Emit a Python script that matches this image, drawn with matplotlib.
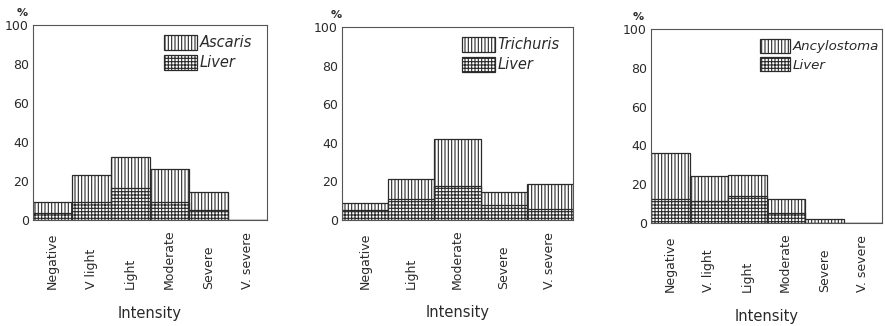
import matplotlib
matplotlib.use("Agg")
import matplotlib.pyplot as plt
from matplotlib.patches import Patch

# --- intensity categories and % of cases per panel ---
ascaris_cats = ["Negative", "V light", "Light", "Moderate", "Severe", "V. severe"]
ascaris = [9, 23, 32.5, 26, 14.5, 0]
ascaris_liver = [3.5, 9, 16.5, 9, 5, 0]

trichuris_cats = ["Negative", "Light", "Moderate", "Severe", "V. severe"]
trichuris = [9, 21.5, 42, 14.5, 18.5]
trichuris_liver = [5, 11, 17.5, 8, 5.5]

ancylostoma_cats = ["Negative", "V. light", "Light", "Moderate", "Severe", "V. severe"]
ancylostoma = [36, 24, 25, 12.5, 2, 0]
ancylostoma_liver = [12.5, 11.5, 14, 5, 0, 0]

y_ticks = [0, 20, 40, 60, 80, 100]

INK = "#2a2a2a"
plt.rcParams["hatch.linewidth"] = 0.8

W, H = 885, 326
fig = plt.figure(figsize=(W / 100, H / 100), dpi=100)


def px_axes(left, top, right, bottom):
    return fig.add_axes([left / W, 1 - bottom / H, (right - left) / W, (bottom - top) / H])


def draw_panel(ax, cats, worm, liver, worm_name, legend_x, pct_x, leg_size=10):
    x = list(range(len(cats)))
    ax.bar(x, worm, width=1.0, facecolor="white", edgecolor=INK,
           hatch="|||||", linewidth=0.9)
    ax.bar(x, liver, width=1.0, facecolor="white", edgecolor=INK,
           hatch="+++++", linewidth=0.9)

    ax.set_xlim(-0.5, len(cats) - 0.5)
    ax.set_ylim(0, 100)
    ax.set_yticks(y_ticks)
    ax.set_yticklabels([str(t) for t in y_ticks], fontsize=9, color=INK)
    ax.set_xticks(x)
    ax.set_xticklabels(cats, rotation=90, fontsize=9, color=INK, va="bottom")
    ax.tick_params(axis="y", length=0, pad=3)
    ax.tick_params(axis="x", length=0, pad=50)
    for s in ax.spines.values():
        s.set_linewidth(0.8)
        s.set_color("#555555")

    ax.text(pct_x, 1.06, "%", transform=ax.transAxes, ha="center", va="center",
            fontsize=8, color=INK, fontweight="bold")
    ax.text(0.5, -0.48, "Intensity", transform=ax.transAxes, ha="center",
            va="center", fontsize=10.5, color=INK)

    handles = [
        Patch(facecolor="white", edgecolor=INK, hatch="|||||", linewidth=0.9),
        Patch(facecolor="white", edgecolor=INK, hatch="+++++", linewidth=0.9),
    ]
    leg = ax.legend(handles, [worm_name, "Liver"], loc="upper left",
                    bbox_to_anchor=(legend_x, 0.95), frameon=False,
                    borderpad=0, borderaxespad=0, handlelength=2.25,
                    handleheight=1.25, handletextpad=0.2, labelspacing=0.3,
                    prop={"style": "italic", "size": leg_size})
    for t in leg.get_texts():
        t.set_color(INK)


ax1 = px_axes(33, 25, 267, 220)
draw_panel(ax1, ascaris_cats, ascaris, ascaris_liver, "Ascaris", 0.56, -0.047, 10.5)

ax2 = px_axes(342, 27, 573, 220)
draw_panel(ax2, trichuris_cats, trichuris, trichuris_liver, "Trichuris", 0.52, -0.026, 10.5)

ax3 = px_axes(651, 29, 882, 223)
draw_panel(ax3, ancylostoma_cats, ancylostoma, ancylostoma_liver, "Ancylostoma", 0.47, -0.056, 9.6)

fig.savefig("out.png", dpi=100, facecolor="white")
